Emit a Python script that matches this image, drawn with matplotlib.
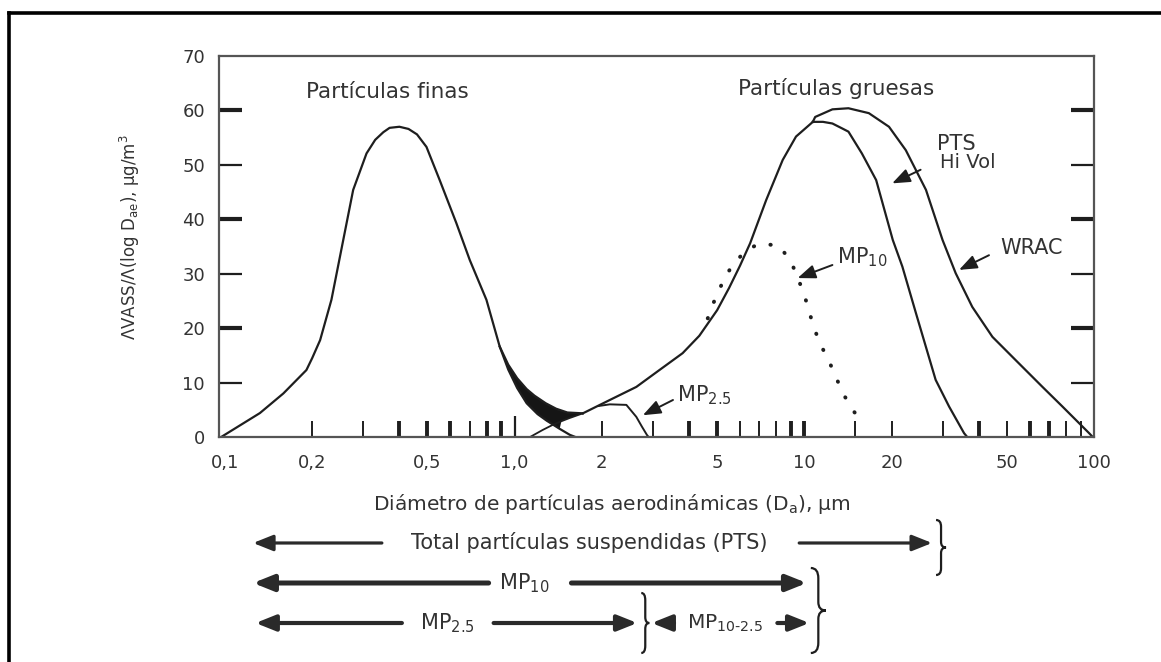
import numpy as np
import matplotlib.pyplot as plt
from matplotlib.path import Path
from matplotlib.patches import PathPatch
from matplotlib.lines import Line2D
from matplotlib.transforms import IdentityTransform

plt.rcParams['font.family'] = ['DejaVu Sans']
plt.rcParams['mathtext.default'] = 'regular'

# fine mode (nucleation + accumulation)
fine_x = [0.097, 0.132, 0.159, 0.191, 0.20, 0.213, 0.233, 0.256, 0.277, 0.308, 0.33,
          0.352, 0.37, 0.40, 0.43, 0.46, 0.496, 0.551, 0.629, 0.700, 0.799, 0.888,
          0.95, 1.02, 1.10, 1.20, 1.29, 1.43, 1.55, 1.62]
fine_y = [0, 4.4, 8.0, 12.3, 14.5, 17.8, 25.2, 36.2, 45.4, 52.1, 54.6,
          56.0, 56.8, 57.0, 56.6, 55.6, 53.3, 47.2, 39.3, 32.5, 25.2, 16.6,
          12.4, 9.0, 6.2, 4.2, 3.0, 1.5, 0.4, 0]

# sum of both modes in the overlap zone
env_x = [0.888, 0.95, 1.02, 1.10, 1.17, 1.28, 1.39, 1.52, 1.72]
env_y = [16.6, 13.3, 10.8, 8.8, 7.6, 6.2, 5.2, 4.5, 4.35]

# coarse mode, lower foot
foot_x = [1.13, 1.25, 1.35, 1.45, 1.55, 1.72]
foot_y = [0, 1.3, 2.2, 2.9, 3.5, 4.35]

# coarse mode, rising flank (common to all samplers)
coarse_x = [1.72, 2.13, 2.63, 3.16, 3.80, 4.34, 5.0, 5.5, 6.0, 6.5, 7.38, 8.42, 9.36, 10.7]
coarse_y = [4.35, 6.8, 9.2, 12.3, 15.4, 18.6, 23.3, 27.4, 31.5, 35.6, 43.5, 50.9, 55.2, 57.9]

# PTS Hi Vol
hivol_x = [10.7, 11.6, 12.5, 13.5, 14.2, 15.8, 17.7, 20.2, 21.8, 24.3, 28.4, 31.6, 35.6, 36.5]
hivol_y = [57.9, 57.9, 57.6, 56.7, 56.1, 52.1, 47.2, 36.2, 31.3, 22.7, 10.5, 5.6, 0.7, 0]

# WRAC
wrac_x = [10.7, 10.9, 12.5, 14.2, 16.7, 19.6, 22.4, 26.3, 30.0, 33.3, 38.0, 44.6, 53.7,
          66.4, 77.8, 96.2, 99.0]
wrac_y = [57.9, 58.8, 60.2, 60.4, 59.5, 57.0, 52.7, 45.4, 36.2, 30.1, 23.9, 18.4, 14.1,
          9.2, 5.6, 0.7, 0]

# MP2.5 sampler
mp25_x = [1.95, 2.13, 2.43, 2.63, 2.75, 2.86, 2.90]
mp25_y = [5.7, 6.0, 5.9, 3.7, 1.9, 0.4, 0]

# MP10 sampler (dotted)
mp10_x = [4.64, 4.88, 5.2, 5.56, 6.2, 7.0, 8.2, 9.0, 9.5, 10.0, 10.4, 10.8, 11.4, 12.2,
          12.9, 13.7, 14.7, 16.1]
mp10_y = [21.8, 24.9, 28.2, 31.0, 34.0, 35.6, 35.1, 32.2, 29.2, 26.1, 23.0, 20.0, 16.9,
          13.8, 10.8, 7.7, 5.0, 1.9]

xtick_vals = [0.1, 0.2, 0.5, 1.0, 2, 5, 10, 20, 50, 100]
xtick_labels = ['0,1', '0,2', '0,5', '1,0', '2', '5', '10', '20', '50', '100']
ytick_vals = [0, 10, 20, 30, 40, 50, 60, 70]

# cut sizes of the size fractions (um)
band_start = 0.125
pts_cut = 27.6
mp10_cut = 10.2
mp25_cut = 2.65

ink = '#1e1e1e'
txt = '#333333'

fig = plt.figure(figsize=(11.61, 6.62), dpi=100)
ax = fig.add_axes([219 / 1161, 1 - 437 / 662, 875 / 1161, 381 / 662])
ax.set_xscale('log')
ax.set_xlim(0.09534, 100)
ax.set_ylim(0, 70)

for s in ax.spines.values():
    s.set_color('#555555')
    s.set_linewidth(1.6)

ax.set_xticks(xtick_vals)
ax.set_xticklabels(xtick_labels)
ax.xaxis.set_minor_locator(plt.NullLocator())
ax.set_yticks(ytick_vals)
ax.tick_params(axis='both', length=0, labelsize=13, labelcolor=txt)
ax.tick_params(axis='x', pad=12)
ax.tick_params(axis='y', pad=10)

# hand-style tick marks inside the frame
mark_x = [0.2, 0.3, 0.4, 0.5, 0.6, 0.7, 0.8, 0.9, 1.0, 2, 3, 4, 5, 6, 7, 8, 9, 10,
          15, 20, 30, 40, 50, 60, 70, 80, 90, 100]
mark_w = [1.4, 1.4, 2.8, 2.8, 2.8, 1.4, 2.8, 2.8, 1.6, 1.4, 1.4, 2.8, 2.8, 1.4, 1.4, 1.4,
          2.8, 2.8, 1.4, 1.4, 1.4, 2.8, 1.4, 2.8, 2.8, 1.4, 1.4, 1.4]
mark_h = [0.055 if v == 1.0 else 0.042 for v in mark_x]
ax.vlines(mark_x, 0, mark_h, transform=ax.get_xaxis_transform(), colors=ink,
          linewidths=mark_w)
ymark = [10, 20, 30, 40, 50, 60]
ymark_w = [1.6, 3.0, 1.6, 3.0, 1.6, 3.0]
tl = 23 / 875
ax.hlines(ymark, 0, tl, transform=ax.get_yaxis_transform(), colors=ink, linewidths=ymark_w)
ax.hlines(ymark, 1 - tl, 1, transform=ax.get_yaxis_transform(), colors=ink,
          linewidths=ymark_w)

# black wedge between the summed curve and the separate modes
gap_top = list(zip(env_x, env_y))
gap_foot = [(x, y) for x, y in zip(foot_x, foot_y) if x >= 1.45][::-1]
gap_fine = [(x, y) for x, y in zip(fine_x, fine_y) if 0.888 <= x <= 1.43][::-1]
gap = np.array(gap_top + gap_foot + gap_fine)
ax.fill(gap[:, 0], gap[:, 1], color='#151515', lw=0)

ax.plot(fine_x, fine_y, color=ink, lw=1.6)
ax.plot(env_x, env_y, color=ink, lw=1.6)
ax.plot(foot_x, foot_y, color=ink, lw=1.3)
ax.plot(coarse_x, coarse_y, color=ink, lw=1.6)
ax.plot(hivol_x, hivol_y, color=ink, lw=1.6)
ax.plot(wrac_x, wrac_y, color=ink, lw=1.6)
ax.plot(mp25_x, mp25_y, color=ink, lw=1.4)
ax.plot(mp10_x, mp10_y, color=ink, lw=2.8, linestyle=(0, (0.1, 4.4)),
        dash_capstyle='round')

# labels inside the plot
ax.text(0.363, 63.4, 'Partículas finas', ha='center', va='center', fontsize=15.5, color=txt)
ax.text(12.9, 64.1, 'Partículas gruesas', ha='center', va='center', fontsize=15.5, color=txt)
ax.text(33.4, 53.9, 'PTS', ha='center', va='center', fontsize=15, color=txt)
ax.text(36.8, 50.5, 'Hi Vol', ha='center', va='center', fontsize=14, color=txt)
ax.text(61.1, 34.7, 'WRAC', ha='center', va='center', fontsize=15, color=txt)
ax.text(13.0, 33.1, 'MP$_{10}$', ha='left', va='center', fontsize=15, color=txt)
ax.text(3.62, 7.7, 'MP$_{2.5}$', ha='left', va='center', fontsize=15, color=txt)

small = dict(arrowstyle='-|>,head_length=0.9,head_width=0.35', color=ink, lw=1.4,
             mutation_scale=12, shrinkA=0, shrinkB=0)
ax.annotate('', xy=(20.1, 46.6), xytext=(25.2, 49.1), arrowprops=small)
ax.annotate('', xy=(34.2, 30.7), xytext=(43.4, 33.4), arrowprops=small)
ax.annotate('', xy=(9.48, 29.2), xytext=(12.5, 31.6), arrowprops=small)
ax.annotate('', xy=(2.77, 4.0), xytext=(3.52, 6.8), arrowprops=small)

ax.set_ylabel('ΛVASS/Λ(log D$_{ae}$), µg/m$^3$', fontsize=12, color=txt)
ax.yaxis.set_label_coords(-0.088, 0.525)
ax.text(0.449, -0.176, 'Diámetro de partículas aerodinámicas (D$_a$), µm',
        transform=ax.transAxes, ha='center', va='center', fontsize=14.5, color=txt)

# size-fraction bands below the axis
bt = ax.get_xaxis_transform()


def band_arrow(x_from, x_to, y, lw):
    ax.annotate('', xy=(x_to, y), xytext=(x_from, y), xycoords=bt, textcoords=bt,
                annotation_clip=False,
                arrowprops=dict(arrowstyle='-|>,head_length=1.0,head_width=0.4',
                                color='#2a2a2a', lw=lw, mutation_scale=12,
                                shrinkA=0, shrinkB=0))


def band_label(x, y, s, size=15):
    ax.text(x, y, s, transform=bt, ha='center', va='center', fontsize=size, color=txt,
            clip_on=False)


r1, r2, r3 = -0.2782, -0.3832, -0.4882
band_arrow(0.348, band_start, r1, 2.3)
band_label(1.81, r1, 'Total partículas suspendidas (PTS)')
band_arrow(9.6, pts_cut, r1, 2.3)

band_arrow(0.813, band_start, r2, 3.6)
band_label(1.08, r2, 'MP$_{10}$')
band_arrow(1.57, mp10_cut, r2, 3.6)

band_arrow(0.408, band_start * 1.02, r3, 3.0)
band_label(0.588, r3, 'MP$_{2.5}$')
band_arrow(0.846, mp25_cut, r3, 3.0)
band_arrow(3.55, 2.97, r3, 3.0)
band_label(5.3, r3, 'MP$_{10\u20102.5}$', size=14.5)
band_arrow(8.07, mp10_cut * 1.02, r3, 3.0)


def brace(x_data, top_px, bot_px, w):
    x0 = ax.transData.transform((x_data, 1))[0] + 4
    yt, yb = 662 - top_px, 662 - bot_px
    ym, h = (yt + yb) / 2, yt - yb
    xs = x0 + w / 2
    verts = [(x0, yt), (xs, yt), (xs, yt - 0.12 * h), (xs, ym + 0.1 * h),
             (xs, ym), (x0 + w, ym), (xs, ym), (xs, ym - 0.1 * h),
             (xs, yb + 0.12 * h), (xs, yb), (x0, yb)]
    codes = [Path.MOVETO, Path.CURVE3, Path.CURVE3, Path.LINETO,
             Path.CURVE3, Path.CURVE3, Path.CURVE3, Path.CURVE3,
             Path.LINETO, Path.CURVE3, Path.CURVE3]
    fig.add_artist(PathPatch(Path(verts, codes), fill=False, ec=ink, lw=1.6,
                             transform=IdentityTransform()))


brace(pts_cut, 520, 575, 10)
brace(mp10_cut, 568, 653, 15)
brace(mp25_cut, 593, 653, 8)

# outer frame
fig.add_artist(Line2D([9 / 1161, 9 / 1161], [0, 1 - 13 / 662], color='black', lw=2.6,
                      transform=fig.transFigure))
fig.add_artist(Line2D([9 / 1161, 1], [1 - 13 / 662, 1 - 13 / 662], color='black', lw=2.6,
                      transform=fig.transFigure))

fig.savefig('out.png', dpi=100, facecolor='white')
